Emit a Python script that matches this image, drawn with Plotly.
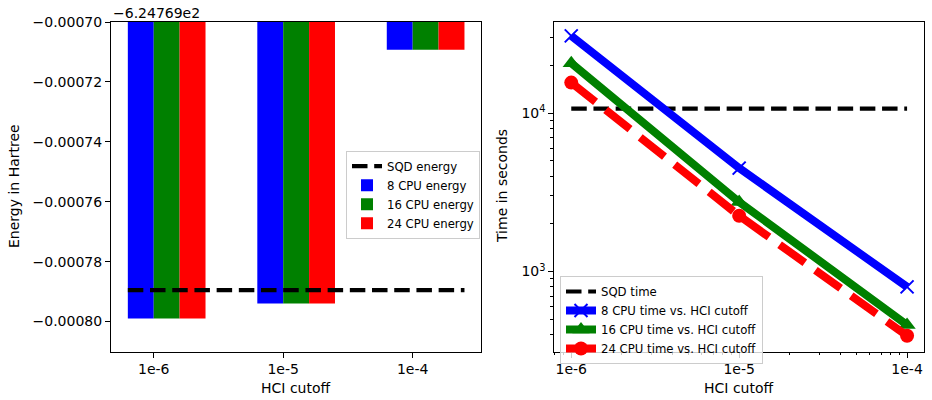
import plotly.graph_objects as go

# ---- data ----
cutoff_labels = ["1e-6", "1e-5", "1e-4"]
hci_cutoff = [1e-6, 1e-5, 1e-4]
energy_offset = -624.769
energy_8 = [-624.769799, -624.769794, -624.7697093]
energy_16 = [-624.769799, -624.769794, -624.7697093]
energy_24 = [-624.769799, -624.769794, -624.7697093]
sqd_energy = -624.7697895

time_8 = [30800, 4500, 800]
time_16 = [20700, 2750, 460]
time_24 = [15600, 2250, 393]
sqd_time = 10700

FONT = "DejaVu Sans"
W, H = 932, 400
fig = go.Figure()

xs = list(range(len(cutoff_labels)))
bw = 0.2
for vals, name, col, off in [(energy_8, "8 CPU energy", "blue", -0.2),
                             (energy_16, "16 CPU energy", "green", 0.0),
                             (energy_24, "24 CPU energy", "red", 0.2)]:
    fig.add_trace(go.Bar(x=xs, y=[v - energy_offset for v in vals], width=bw, offset=off,
                         marker=dict(color=col, line=dict(width=0)), name=name,
                         xaxis="x", yaxis="y", legend="legend"))
fig.add_trace(go.Scatter(x=[xs[0] - 0.2, xs[-1] + 0.4], y=[sqd_energy - energy_offset] * 2,
                         mode="lines", line=dict(color="black", width=4.2, dash="15.5px,6.7px"),
                         name="SQD energy", xaxis="x", yaxis="y", legend="legend", legendrank=1))

# right
fig.add_trace(go.Scatter(x=[hci_cutoff[0], hci_cutoff[-1]], y=[sqd_time] * 2, mode="lines",
                         line=dict(color="black", width=4.2, dash="15.5px,6.7px"),
                         name="SQD time", xaxis="x2", yaxis="y2", legend="legend2"))
fig.add_trace(go.Scatter(x=hci_cutoff, y=time_8, mode="lines+markers",
                         line=dict(color="blue", width=8),
                         marker=dict(symbol="x-thin", size=13, line=dict(color="blue", width=2)),
                         name="8 CPU time vs. HCI cutoff", xaxis="x2", yaxis="y2", legend="legend2"))
fig.add_trace(go.Scatter(x=hci_cutoff, y=time_16, mode="lines+markers",
                         line=dict(color="green", width=8),
                         marker=dict(symbol="triangle-up", size=15, color="green"),
                         name="16 CPU time vs. HCI cutoff", xaxis="x2", yaxis="y2", legend="legend2"))
fig.add_trace(go.Scatter(x=hci_cutoff, y=time_24, mode="lines+markers",
                         line=dict(color="red", width=8, dash="31px,13px"),
                         marker=dict(symbol="circle", size=14, color="red"),
                         name="24 CPU time vs. HCI cutoff", xaxis="x2", yaxis="y2", legend="legend2"))

ytop, ybot = 1 - 22 / H, 1 - 351.5 / H
axcommon = dict(showline=True, linecolor="black", linewidth=1.1, mirror=True, ticks="outside",
                ticklen=5, tickwidth=1.1, tickcolor="black", showgrid=False, zeroline=False,
                automargin=False, tickfont=dict(family=FONT, size=14, color="black"))

yt = [-0.0007 - 0.00002 * i for i in range(6)]
minor_x = [m * 10 ** e for e in (-7, -6, -5, -4) for m in range(2, 10)]
minor_y = [m * 10 ** e for e in (2, 3, 4) for m in range(2, 10)]

fig.update_layout(
    width=W, height=H, margin=dict(l=0, r=0, t=0, b=0, autoexpand=False),
    paper_bgcolor="white", plot_bgcolor="white",
    font=dict(family=FONT, size=14, color="black"),
    barmode="overlay", showlegend=True,
    xaxis=dict(domain=[111 / W, 481.3 / W], range=[-0.33, 2.53], tickvals=xs, ticktext=cutoff_labels,
               anchor="y", **axcommon),
    yaxis=dict(domain=[ybot, ytop], range=[-0.00081, -0.0007], tickvals=yt, tickformat=".5f",
               anchor="x", **axcommon),
    xaxis2=dict(domain=[554.3 / W, 923.7 / W], type="log", range=[-6.101, -3.901],
                tickvals=hci_cutoff, ticktext=cutoff_labels, anchor="y2",
                minor=dict(ticks="outside", ticklen=2.8, tickwidth=0.8, tickcolor="black", tickvals=minor_x),
                **axcommon),
    yaxis2=dict(domain=[ybot, ytop], type="log", range=[2.495, 4.576],
                tickvals=[1e3, 1e4], ticktext=["10<sup>3</sup>", "10<sup>4</sup>"], anchor="x2",
                minor=dict(ticks="outside", ticklen=2.8, tickwidth=0.8, tickcolor="black", tickvals=minor_y),
                **axcommon),
    legend=dict(x=346 / W, y=1 - 150.7 / H, xanchor="left", yanchor="top",
                bgcolor="rgba(255,255,255,0.8)", bordercolor="#cccccc", borderwidth=1,
                font=dict(family=FONT, size=11.7), tracegroupgap=0, traceorder="normal"),
    legend2=dict(x=560 / W, y=1 - 276 / H, xanchor="left", yanchor="top",
                 bgcolor="rgba(255,255,255,0.8)", bordercolor="#cccccc", borderwidth=1,
                 font=dict(family=FONT, size=11.7), tracegroupgap=0, traceorder="normal"),
)

ann = [
    dict(text="Energy in Hartree", x=14 / W, y=1 - 186 / H, textangle=-90),
    dict(text="HCI cutoff", x=296 / W, y=1 - 388 / H),
    dict(text="HCI cutoff", x=739 / W, y=1 - 388 / H),
    dict(text="Time in seconds", x=502 / W, y=1 - 186 / H, textangle=-90),
]
for a in ann:
    fig.add_annotation(xref="paper", yref="paper", showarrow=False, xanchor="center", yanchor="middle",
                       font=dict(family=FONT, size=14, color="black"), **a)
fig.add_annotation(xref="paper", yref="paper", showarrow=False, xanchor="left", yanchor="middle",
                   text="\u22126.24769e2", x=111 / W, y=1 - 12.5 / H,
                   font=dict(family=FONT, size=14, color="black"))

fig.write_html("out.html")
